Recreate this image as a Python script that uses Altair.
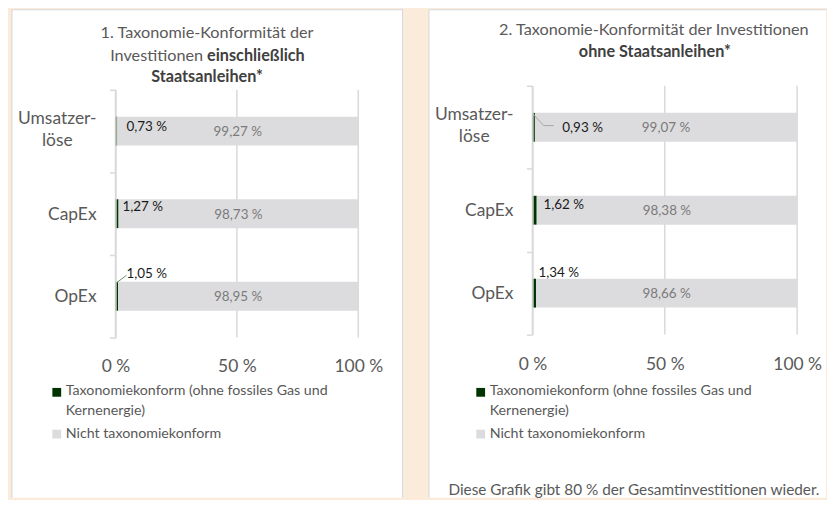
import altair as alt
import pandas as pd

# ---------------- data ----------------
categories = ["Umsatzerlöse", "CapEx", "OpEx"]
category_labels = ["Umsatzer-\nlöse", "CapEx", "OpEx"]
series = ["Taxonomiekonform (ohne fossiles Gas und Kernenergie)", "Nicht taxonomiekonform"]
legend_labels = ["Taxonomiekonform (ohne fossiles Gas und\nKernenergie)", "Nicht taxonomiekonform"]

aligned_incl = [0.73, 1.27, 1.05]
not_aligned_incl = [99.27, 98.73, 98.95]
aligned_excl = [0.93, 1.62, 1.34]
not_aligned_excl = [99.07, 98.38, 98.66]

x_ticks = [0, 50, 100]

title1 = ["1. Taxonomie-Konformität der", "Investitionen", "einschließlich", "Staatsanleihen*"]
title2 = ["2. Taxonomie-Konformität der Investitionen", "ohne Staatsanleihen*"]
footer = "Diese Grafik gibt 80 % der Gesamtinvestitionen wieder."

# ---------------- style ----------------
GREEN = "#003300"
GRAYBAR = "#DCDCDE"
GRID = "#D9D9D9"
BORDER = "#D6D6D6"
TXT = "#595959"
DARK = "#404040"
BEIGE = "#FBEBDA"
FONT = "Lato"
TOP, BOTTOM = -77, 414


def fmt(v):
    return f"{v:.2f}".replace(".", ",") + " %"


def build_df(aligned, not_aligned):
    rows = []
    for c, lab, a, n in zip(categories, category_labels, aligned, not_aligned):
        rows.append(dict(cat=c, catlabel=lab, series=series[0], start=0.0, end=a, mid=a / 2, label=fmt(a)))
        rows.append(dict(cat=c, catlabel=lab, series=series[1], start=a, end=a + n, mid=a + n / 2, label=fmt(n)))
    return pd.DataFrame(rows)


def text_layer(txt, x, y, size, color=TXT, weight="normal", align="center"):
    return alt.Chart(pd.DataFrame({"t": [txt]})).mark_text(
        font=FONT, fontSize=size, color=color, fontWeight=weight, align=align,
        baseline="middle", lineBreak="\n"
    ).encode(text="t:N", x=alt.value(x), y=alt.value(y))


def edge(x1, x2, y1, y2):
    return alt.Chart(pd.DataFrame({"a": [0]})).mark_rule(color=BORDER, strokeWidth=1).encode(
        x=alt.value(x1), x2=alt.value(x2), y=alt.value(y1), y2=alt.value(y2))


def panel(aligned, not_aligned, width, height, yrange, rect_right, right_border, label_pad,
          green_offsets, leaders, titles, legend_x, footer_layer=None):
    df = build_df(aligned, not_aligned)
    xs = alt.Scale(domain=[0, 100], nice=False, zero=True)
    ys = alt.Scale(domain=categories, range=yrange, paddingInner=0, paddingOuter=0)
    cs = alt.Scale(domain=series, range=[GREEN, GRAYBAR])
    xaxis = alt.Axis(
        title=None, values=x_ticks, labelExpr="datum.value + ' %'", grid=False,
        domain=False, ticks=False, labelFontSize=17.5, labelColor=TXT, labelFont=FONT,
        labelPadding=label_pad, labelBaseline="middle", labelFlush=False, labelOverlap=False, zindex=1)
    yaxis = alt.Axis(
        title=None, labels=False, domain=True, domainColor=GRID, domainWidth=1.5,
        ticks=True, tickColor=GRID, tickWidth=1.5, tickSize=6, tickBand="extent",
        grid=False, zindex=1)

    def X(f):
        return alt.X(f, scale=xs, axis=xaxis)

    def Y():
        return alt.Y("cat:N", scale=ys, sort=categories, axis=yaxis)

    bg = alt.Chart(pd.DataFrame({"a": [0]})).mark_rect(fill="white", strokeWidth=0).encode(
        x=alt.value(-104), x2=alt.value(rect_right), y=alt.value(TOP), y2=alt.value(BOTTOM))
    borders = [edge(-104, -104, TOP + 0.5, BOTTOM), edge(-104, rect_right, TOP + 0.5, TOP + 0.5)]
    if right_border:
        borders.append(edge(rect_right - 0.5, rect_right - 0.5, TOP + 0.5, BOTTOM))

    grid = alt.Chart(pd.DataFrame({"v": x_ticks})).mark_rule(color=GRID, strokeWidth=1.5).encode(
        x=X("v:Q"), y=alt.value(yrange[0]), y2=alt.value(yrange[1]))

    bars = alt.Chart(df).mark_bar(height=29).encode(
        x=X("start:Q"), x2="end:Q", y=Y(),
        color=alt.Color("series:N", scale=cs, legend=None),
    )

    gray_labels = alt.Chart(df[df.series == series[1]]).mark_text(
        font=FONT, fontSize=13.5, color="#7A7A7A", dy=1
    ).encode(x=X("mid:Q"), y=Y(), text="label:N")

    layers = [bg] + borders + [grid, bars, gray_labels]

    for c, (dx, dy) in zip(categories, green_offsets):
        sub = df[(df.series == series[0]) & (df.cat == c)]
        layers.append(alt.Chart(sub).mark_text(
            font=FONT, fontSize=13.5, color="#1A1A1A", align="left", dx=dx, dy=dy
        ).encode(x=X("start:Q"), y=Y(), text="label:N"))

    for (cat, x1, x2, o1, o2, col) in leaders:
        layers.append(alt.Chart(pd.DataFrame({"a": [0]})).mark_rule(
            color=col, strokeWidth=1, yOffset=o1, y2Offset=o2
        ).encode(x=alt.XDatum(x1, scale=xs, axis=xaxis), x2=alt.X2Datum(x2),
                 y=alt.YDatum(cat, type="nominal", scale=ys, axis=yaxis), y2=alt.Y2Datum(cat)))

    # category labels
    cat_df = df[df.series == series[0]]
    layers.append(alt.Chart(cat_df[cat_df.cat == categories[0]]).mark_text(
        font=FONT, fontSize=17.5, color=TXT, align="center", lineBreak="\n", lineHeight=22, dy=-12
    ).encode(x=alt.value(-58.5), y=Y(), text="catlabel:N"))
    layers.append(alt.Chart(cat_df[cat_df.cat != categories[0]]).mark_text(
        font=FONT, fontSize=17.5, color=TXT, align="right", dy=1
    ).encode(x=alt.value(-19), y=Y(), text="catlabel:N"))

    layers += titles

    # legend
    leg = pd.DataFrame({"series": series, "label": legend_labels})
    for i, (sy, ty) in enumerate([(308, 307), (350, 350)]):
        row = leg.iloc[[i]]
        layers.append(alt.Chart(row).mark_square(size=78, opacity=1).encode(
            x=alt.value(legend_x), y=alt.value(sy), color=alt.Color("series:N", scale=cs, legend=None)))
        layers.append(alt.Chart(row).mark_text(
            font=FONT, fontSize=14.3, color=TXT, align="left", baseline="middle",
            lineBreak="\n", lineHeight=20
        ).encode(x=alt.value(legend_x + 9), y=alt.value(ty), text="label:N"))

    if footer_layer is not None:
        layers.append(footer_layer)

    return alt.layer(*layers).properties(width=width, height=height)


left_titles = [
    text_layer(title1[0], 92, -53, 16.3),
    text_layer(title1[1], 88, -30, 16.3, align="right"),
    text_layer(title1[2], 92, -30, 16.3, color=DARK, weight="bold", align="left"),
    text_layer(title1[3], 92, -9, 16.3, color=DARK, weight="bold"),
]
right_titles = [
    text_layer(title2[0], 122, -56, 16.3),
    text_layer(title2[1], 123, -33.5, 16.3, color=DARK, weight="bold"),
]

left = panel(
    aligned_incl, not_aligned_incl, 244, 253, [4, 253], 289, True, 29,
    green_offsets=[(11, -4.5), (7, -6.5), (11, -22.5)],
    leaders=[("OpEx", 0.4, 4.5, -13.5, -21, "#6B8E6B")],
    titles=left_titles, legend_x=-59,
)
right = panel(
    aligned_excl, not_aligned_excl, 266, 250, [0, 250], 295, False, 30,
    green_offsets=[(30, 0.6), (11, -5), (6, -20.5)],
    leaders=[("Umsatzerlöse", 0.0, 4.25, -14, -1.7, "#A6A6A6"),
             ("Umsatzerlöse", 4.25, 8.0, -1.7, -1.7, "#A6A6A6")],
    titles=right_titles, legend_x=-52,
    footer_layer=text_layer(footer, 102, 406, 15.4),
)

chart = alt.hconcat(left, right, spacing=24).resolve_scale(
    x="independent", y="independent"
).configure(
    background=BEIGE, padding={"left": 3, "top": 0, "right": 0, "bottom": 0}
).configure_view(stroke=None)

chart.save("out.html", embed_options={"renderer": "svg", "actions": False})
